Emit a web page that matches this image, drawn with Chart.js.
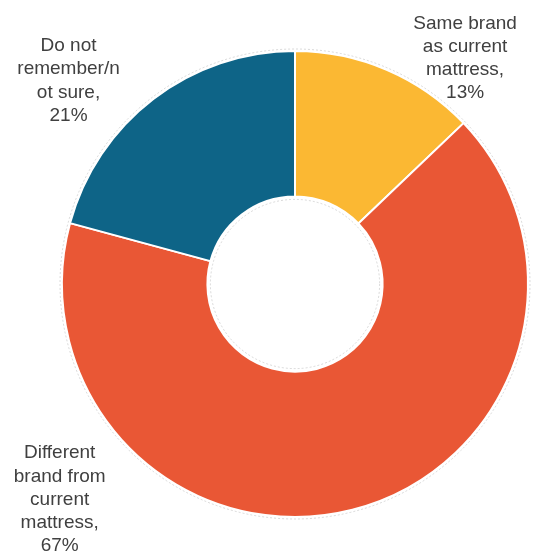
<!DOCTYPE html>
<html>
<head>
<meta charset="utf-8">
<script src="https://cdn.jsdelivr.net/npm/chart.js@4"></script>
<style>
  html, body { margin: 0; padding: 0; background: #fff; }
  #wrap { width: 535px; height: 556px; position: relative; }
</style>
</head>
<body>
<div id="wrap"><canvas id="myChart"></canvas></div>
<script>
const categories = [
    ['Same brand', 'as current', 'mattress,'],
    ['Different', 'brand from', 'current', 'mattress,'],
    ['Do not', 'remember/n', 'ot sure,']
];
const shares = [13, 67, 21];
const colors = ['#FBB833', '#E95735', '#0E6487'];

// where each label block sits, as (dx, dy) from the ring centre in units of the outer radius
const labelSpots = [
    [0.73, -0.968],
    [-1.01, 0.925],
    [-0.972, -0.872]
];

const canvas = document.getElementById("myChart");

// faint ghost rings just outside the outer edge and inside the hole
const ghostRings = {
    id: 'ghostRings',
    afterDatasetsDraw(chart) {
        const arc = chart.getDatasetMeta(0).data[0];
        if (!arc) return;
        const ctx = chart.ctx;
        ctx.save();
        ctx.strokeStyle = 'rgba(170,170,170,0.55)';
        ctx.lineWidth = 0.8;
        ctx.setLineDash([2, 2]);
        [arc.outerRadius + 2, arc.innerRadius - 3].forEach(r => {
            ctx.beginPath();
            ctx.arc(arc.x, arc.y, r, 0, Math.PI * 2);
            ctx.stroke();
        });
        ctx.restore();
    }
};

const sliceLabels = {
    id: 'sliceLabels',
    afterDraw(chart) {
        const arcs = chart.getDatasetMeta(0).data;
        const ctx = chart.ctx;
        ctx.save();
        ctx.fillStyle = '#404040';
        ctx.font = '19px "Liberation Sans", Arial, sans-serif';
        ctx.textAlign = 'center';
        ctx.textBaseline = 'middle';
        const lineH = 23.2;
        arcs.forEach((arc, i) => {
            const lines = categories[i].concat([shares[i] + '%']);
            const cx = arc.x + labelSpots[i][0] * arc.outerRadius;
            const cy = arc.y + labelSpots[i][1] * arc.outerRadius;
            const top = cy - (lines.length - 1) * lineH / 2;
            lines.forEach((t, j) => ctx.fillText(t, cx, top + j * lineH));
        });
        ctx.restore();
    }
};

new Chart(canvas, {
    type: 'doughnut',
    data: {
        labels: categories.map(c => c.join(' ')),
        datasets: [{
            data: shares,
            backgroundColor: colors,
            borderColor: '#ffffff',
            borderWidth: 2,
            hoverOffset: 0,
            offset: 0
        }]
    },
    options: {
        responsive: true,
        maintainAspectRatio: false,
        animation: false,
        cutout: '37.6%',
        layout: {
            padding: { left: 61, right: 6, top: 50, bottom: 38 }
        },
        plugins: {
            legend: { display: false },
            tooltip: { enabled: false }
        }
    },
    plugins: [ghostRings, sliceLabels]
});
</script>
</body>
</html>
